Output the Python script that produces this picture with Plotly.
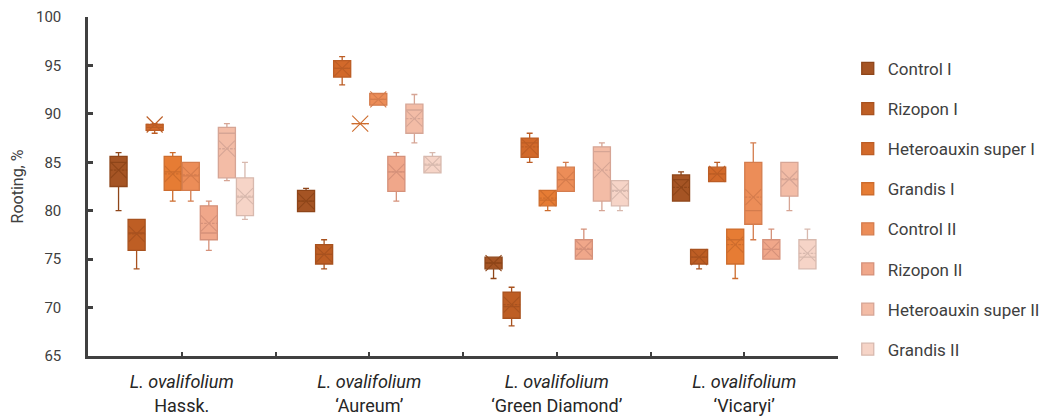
import plotly.graph_objects as go

# ---- data ----
groups = ["<i>L. ovalifolium</i><br>Hassk.",
          "<i>L. ovalifolium</i><br>‘Aureum’",
          "<i>L. ovalifolium</i><br>‘Green Diamond’",
          "<i>L. ovalifolium</i><br>‘Vicaryi’"]

series = ["Control I", "Rizopon I", "Heteroauxin super I", "Grandis I",
          "Control II", "Rizopon II", "Heteroauxin super II", "Grandis II"]

mins = [[80.0, 79.9, 73.0, 81.0],
        [74.0, 74.0, 68.1, 74.0],
        [88.0, 93.0, 85.0, 83.0],
        [81.0, 89.0, 80.0, 73.0],
        [81.0, 90.9, 82.0, 77.0],
        [75.9, 81.0, 75.0, 75.0],
        [83.1, 87.0, 80.0, 80.0],
        [79.1, 83.9, 80.0, 74.0]]
q1s = [[82.5, 79.9, 74.0, 81.0],
       [75.9, 74.5, 68.9, 74.5],
       [88.3, 93.8, 85.5, 83.0],
       [82.1, 89.0, 80.5, 74.5],
       [82.1, 90.9, 82.0, 78.6],
       [77.0, 82.0, 75.0, 75.0],
       [83.4, 88.0, 81.0, 81.5],
       [79.5, 83.9, 80.5, 74.0]]
medians = [[85.0, 81.0, 74.6, 83.2],
           [77.7, 75.5, 70.1, 75.2],
           [88.6, 94.7, 87.0, 83.8],
           [84.0, 89.0, 81.1, 77.0],
           [83.6, 91.5, 83.2, 80.0],
           [77.7, 84.0, 76.0, 76.0],
           [88.0, 90.4, 86.1, 83.2],
           [81.4, 84.7, 82.1, 75.2]]
q3s = [[85.6, 82.1, 75.2, 83.7],
       [79.1, 76.5, 71.6, 76.0],
       [88.9, 95.5, 87.5, 84.5],
       [85.6, 89.0, 82.1, 78.1],
       [85.0, 92.1, 84.5, 85.0],
       [80.5, 85.6, 77.0, 77.0],
       [88.6, 91.0, 86.6, 85.0],
       [83.4, 85.6, 83.1, 77.0]]
maxs = [[86.0, 82.3, 75.2, 84.0],
        [79.1, 77.0, 72.1, 76.0],
        [89.0, 95.9, 88.0, 85.0],
        [86.0, 89.0, 82.1, 78.1],
        [85.0, 92.1, 85.0, 87.0],
        [81.0, 86.0, 78.1, 78.1],
        [89.0, 92.0, 87.0, 85.0],
        [85.0, 86.0, 83.1, 78.1]]
means = [[84.2, 81.0, 74.6, 82.4],
         [77.6, 75.5, 70.3, 75.2],
         [88.9, 94.7, 86.6, 83.8],
         [83.8, 89.0, 81.3, 76.5],
         [83.7, 91.5, 83.2, 81.4],
         [78.7, 84.0, 76.1, 76.0],
         [86.4, 89.5, 84.2, 83.3],
         [81.5, 84.8, 82.0, 75.6]]

# ---- style ----
fills = ["#A55424", "#BE5E24", "#D2692A", "#E67C34",
         "#EC8D58", "#F0A78A", "#F3BCA6", "#F6D4C7"]
borders = ["#8E4519", "#A8521F", "#BC5D25", "#CD6C2D",
           "#D47C4D", "#D5917A", "#D6A595", "#D8B9AE"]

step = 0.0963
bw = 0.091
font = "Roboto, Arial, sans-serif"
axis_col = "#404040"

fig = go.Figure()
for j, name in enumerate(series):
    off = (j - 3.5) * step
    xs = [g + off for g in range(len(groups))]
    fig.add_trace(go.Box(
        name=name, x=xs, q1=q1s[j], median=medians[j], q3=q3s[j],
        lowerfence=mins[j], upperfence=maxs[j], mean=means[j],
        width=bw, whiskerwidth=0.35, boxpoints=False,
        fillcolor=fills[j], line=dict(color=borders[j], width=1.3),
        legendgroup=name, showlegend=True,
    ))
    fig.add_trace(go.Scatter(
        x=xs, y=means[j], mode="markers", showlegend=False, legendgroup=name,
        marker=dict(symbol="x-thin", size=16,
                    line=dict(color=borders[j], width=1.1)),
        hoverinfo="skip",
    ))

tickvals = [0, 0.5, 1, 1.5, 2, 2.5, 3, 3.5]
ticktext = [groups[0], "", groups[1], "", groups[2], "", groups[3], ""]

# page body has an 8px default margin, so the figure is sized to fit the window
fig.update_layout(
    width=1046, height=409,
    margin=dict(l=80, r=216, t=9, b=61),
    paper_bgcolor="white", plot_bgcolor="white",
    font=dict(family=font, color=axis_col, size=14),
    legend=dict(x=1.013, y=0.90, xanchor="left", yanchor="top",
                font=dict(size=17, color="#404040", family=font),
                tracegroupgap=15, itemwidth=30, bgcolor="rgba(0,0,0,0)"),
    xaxis=dict(range=[-0.5, 3.5], tickvals=tickvals, ticktext=ticktext,
               automargin=False,
               showgrid=False, zeroline=False, showline=True,
               linecolor=axis_col, linewidth=2.5, ticks="inside",
               ticklen=4, tickwidth=1.5, tickcolor=axis_col,
               ticklabelstandoff=8,
               tickfont=dict(size=18, color="#262626", family=font)),
    yaxis=dict(range=[65, 100], dtick=5, showgrid=False, zeroline=False,
               automargin=False,
               showline=True, linecolor=axis_col, linewidth=2.5,
               ticks="inside", ticklen=5, tickwidth=2.5, tickcolor=axis_col,
               ticklabelstandoff=21,
               tickfont=dict(size=15, color=axis_col, family=font),
               title=dict(text="Rooting, %", standoff=12,
                          font=dict(size=16, color=axis_col, family=font))),
)

fig.write_html("out.html")
